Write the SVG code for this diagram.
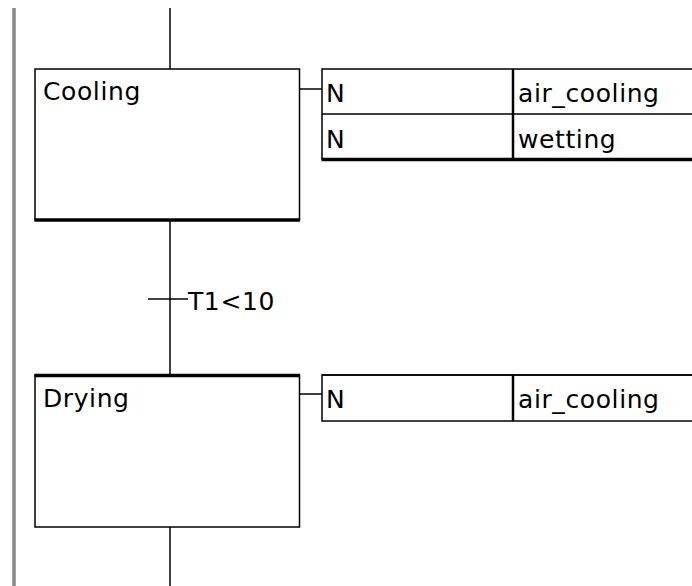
<svg xmlns="http://www.w3.org/2000/svg" width="692" height="586" viewBox="0 0 692 586">
<style>
.ln{stroke:#000;stroke-width:1.5;fill:none}
.thick{stroke:#000;stroke-width:3.5;fill:none}
.bx{fill:#fff;stroke:#000;stroke-width:1.5}
.t{font-family:"DejaVu Sans",sans-serif;font-size:25px;fill:#000;letter-spacing:0.6px}
</style>
<rect width="692" height="586" fill="#fff"/>
<line x1="14" y1="8" x2="14" y2="586" stroke="#888" stroke-width="3.5"/>
<g id="connectors">
<line class="ln" x1="170" y1="8" x2="170" y2="69"/>
<line class="ln" x1="170" y1="220" x2="170" y2="375"/>
<line class="ln" x1="170" y1="527" x2="170" y2="586"/>
<line class="ln" x1="300" y1="89" x2="322" y2="89"/>
<line class="ln" x1="300" y1="394" x2="322" y2="394"/>
</g>
<g id="step-cooling">
<rect class="bx" x="35" y="69" width="264.5" height="151"/>
<line class="thick" x1="34.5" y1="220" x2="300" y2="220"/>
<text class="t" x="43" y="100">Cooling</text>
</g>
<g id="actions-cooling">
<rect class="bx" x="322" y="69" width="380" height="90"/>
<line class="ln" x1="322" y1="114" x2="692" y2="114"/>
<line class="thick" x1="321.5" y1="159.5" x2="692" y2="159.5"/>
<line x1="513" y1="69" x2="513" y2="159" stroke="#000" stroke-width="2.5"/>
<text class="t" x="326" y="102">N</text>
<text class="t" x="518" y="102">air_cooling</text>
<text class="t" x="326" y="148">N</text>
<text class="t" x="518" y="148">wetting</text>
</g>
<g id="transition-t1">
<line class="ln" x1="148" y1="299" x2="188" y2="299"/>
<text class="t" x="188" y="310">T1&lt;10</text>
</g>
<g id="step-drying">
<rect class="bx" x="35" y="375" width="264.5" height="152"/>
<line class="thick" x1="34.5" y1="375.5" x2="300" y2="375.5"/>
<text class="t" x="43" y="407">Drying</text>
</g>
<g id="actions-drying">
<rect class="bx" x="322" y="375" width="380" height="46"/>
<line class="ln" x1="322" y1="375" x2="692" y2="375" stroke-width="2"/>
<line x1="513" y1="375" x2="513" y2="421" stroke="#000" stroke-width="2.5"/>
<text class="t" x="326" y="408">N</text>
<text class="t" x="518" y="408">air_cooling</text>
</g>
</svg>
